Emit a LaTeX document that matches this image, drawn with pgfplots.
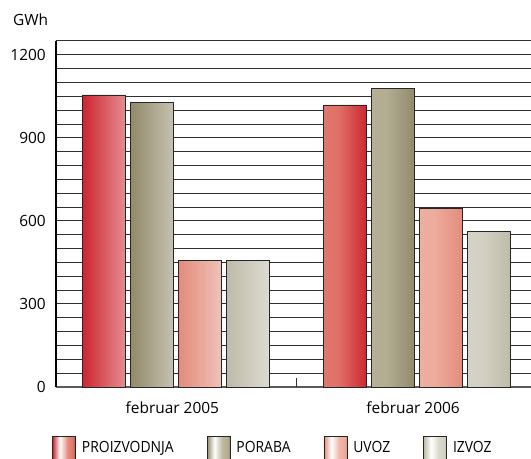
\documentclass[border=0pt]{standalone}
\usepackage{fontspec}
\setmainfont{Open Sans}
\newfontfamily\legfont[FakeStretch=0.9]{Open Sans}
\usepackage{pgfplots}
\pgfplotsset{compat=1.18}

% bar colours: edge tone and mid tone of each cylinder-like bar
\definecolor{proizE}{HTML}{CD2731}
\definecolor{proizM}{HTML}{E48A7A}
\definecolor{porabaE}{HTML}{938A6C}
\definecolor{porabaM}{HTML}{BDB8A0}
\definecolor{uvozE}{HTML}{E38C7C}
\definecolor{uvozM}{HTML}{F0B6A8}
\definecolor{izvozE}{HTML}{BFBBA9}
\definecolor{izvozM}{HTML}{DAD8CC}
\definecolor{gridc}{HTML}{303030}

% horizontal shadings: the path's box maps onto 25bp..75bp
\newcommand\barshading[3]{%
  \pgfdeclarehorizontalshading{#1}{100bp}{color(0bp)=(#2); color(25bp)=(#2);
    color(41bp)=(white); color(58bp)=(#3); color(70bp)=(#3!75!#2);
    color(75bp)=(#2); color(100bp)=(#2)}}
\barshading{proiz}{proizE}{proizM}
\barshading{poraba}{porabaE}{porabaM}
\barshading{uvoz}{uvozE}{uvozM}
\barshading{izvoz}{izvozE}{izvozM}

\pgfplotsset{
  legbox/.style={legend image code/.code={\draw[##1] (0bp,-11.5bp) rectangle (23bp,11.5bp);}},
}

\begin{document}
\fontsize{15.5}{18.6}\selectfont
\begin{tikzpicture}
\begin{axis}[
  name=ax,
  scale only axis,
  width=475bp, height=346bp,
  xmin=-0.5, xmax=1.473,
  ymin=0, ymax=1250,
  ybar=5bp, bar width=43bp,
  axis x line*=bottom, axis y line*=left,
  x axis line style={draw=black!65, line width=2bp},
  y axis line style={draw=black, line width=1.3bp},
  xtick={0,1},
  xticklabels={februar 2005, februar 2006},
  ytick={0,300,600,900,1200},
  minor ytick={50,100,...,1250},
  yminorgrids,
  minor grid style={draw=gridc, line width=1bp},
  major tick length=0bp, minor tick length=0bp,
  extra x ticks={0.5},
  extra x tick labels={},
  extra x tick style={major tick length=9bp, tick align=inside,
    tick style={draw=black!80, line width=1.3bp}},
  /pgf/number format/assume math mode=true,
  /pgf/number format/1000 sep={},
  xticklabel style={inner sep=0bp, anchor=north, yshift=-14bp, xshift=-4bp},
  yticklabel style={inner sep=0bp, anchor=east, xshift=-10bp},
  legend columns=4,
  legend style={at={(axis description cs:0,0)}, anchor=north west,
    xshift=-4bp, yshift=-49bp, draw=none, fill=none, inner sep=0bp,
    font=\legfont, nodes={inner sep=0bp},
    /tikz/every odd column/.append style={column sep=6bp},
    /tikz/every even column/.append style={column sep=33bp}},
  legend cell align=left,
  clip=false,
]
\addplot[draw=black!85, line width=0.8bp, shading=proiz, legbox]
  coordinates {(0,1055) (1,1019)};
\addplot[draw=black!85, line width=0.8bp, shading=poraba, legbox]
  coordinates {(0,1028) (1,1077)};
\addplot[draw=black!85, line width=0.8bp, shading=uvoz, legbox]
  coordinates {(0,457) (1,644)};
\addplot[draw=black!85, line width=0.8bp, shading=izvoz, legbox]
  coordinates {(0,457) (1,563)};
\legend{PROIZVODNJA, PORABA, UVOZ, IZVOZ}
\node[anchor=west, inner sep=0bp] at ([xshift=-43bp, yshift=21bp]rel axis cs:0,1) {GWh};
\end{axis}
\pgfresetboundingbox
\path[use as bounding box] ([xshift=-56bp, yshift=-72bp]ax.south west)
  rectangle ([yshift=41bp]ax.north east);
\end{tikzpicture}
\end{document}
